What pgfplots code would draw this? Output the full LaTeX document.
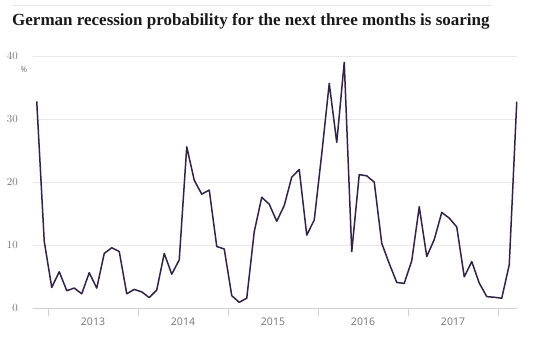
\documentclass[border=0pt]{standalone}
\usepackage{pgfplots}
\pgfplotsset{compat=1.18}
\usepackage{fontspec}
\setmainfont{Liberation Serif}
\newfontfamily\tickfont{Open Sans}
\definecolor{linec}{HTML}{2F2347}
\definecolor{gridc}{HTML}{E8E8E8}
\definecolor{tickc}{HTML}{737373}
\definecolor{basec}{HTML}{D0D0D0}
\begin{document}
\begin{tikzpicture}
\path[use as bounding box] (0,0) rectangle (550bp,341bp);
\draw[gridc, line width=0.8bp] (12bp,336bp) -- (492bp,336bp);
\node[anchor=base west, inner sep=0pt, text=black!90] at (12bp,315bp)
  {\fontsize{17bp}{19bp}\selectfont\bfseries German recession probability for the next three months is soaring};
\begin{axis}[
  at={(33bp,32.7bp)}, anchor=south west,
  scale only axis, width=483.75bp, height=252.3bp,
  xmin=-0.5, xmax=64, ymin=0, ymax=40,
  axis x line*=bottom, axis y line*=left,
  x axis line style={basec, line width=0.8bp},
  y axis line style={draw=none},
  ytick={0,10,20,30,40},
  ymajorgrids, grid style={gridc, line width=0.8bp},
  ytick style={draw=none},
  xtick={1.5,13.5,25.5,37.5,49.5,61.5}, xticklabels={},
  xtick style={basec, line width=0.8bp},
  tick align=outside, major tick length=8bp,
  extra x ticks={7.5,19.5,31.5,43.5,55.5},
  extra x tick labels={2013,2014,2015,2016,2017},
  extra x tick style={major tick length=0pt, grid=none},
  tick label style={font=\tickfont\fontsize{10.5bp}{12bp}\selectfont, text=tickc},
  yticklabel style={anchor=east, inner sep=0pt, xshift=-7bp},
  xticklabel style={inner sep=0pt, yshift=-9bp},
  clip=false,
]
\addplot[linec, line width=1.5bp, line join=round] coordinates {
(0,32.8) (1,10.6) (2,3.3) (3,5.8) (4,2.8) (5,3.2) (6,2.3) (7,5.65) (8,3.2) (9,8.7)
(10,9.6) (11,9.0) (12,2.3) (13,3.0) (14,2.6) (15,1.7) (16,2.9) (17,8.7) (18,5.4) (19,7.7)
(20,25.6) (21,20.3) (22,18.1) (23,18.75) (24,9.8) (25,9.4) (26,2.0) (27,0.95) (28,1.6) (29,12.15)
(30,17.6) (31,16.5) (32,13.8) (33,16.3) (34,20.8) (35,22.0) (36,11.6) (37,14.0) (38,24.5) (39,35.65)
(40,26.3) (41,39.0) (42,9.0) (43,21.2) (44,21.0) (45,20.0) (46,10.3) (47,7.1) (48,4.1) (49,3.95)
(50,7.55) (51,16.1) (52,8.2) (53,10.9) (54,15.2) (55,14.3) (56,12.9) (57,5.0) (58,7.4) (59,4.0)
(60,1.85) (61,1.75) (62,1.6) (63,6.9) (64,32.75)
};
\end{axis}
\node[text=tickc, inner sep=0pt] at (24bp,271bp) {\tickfont\fontsize{8bp}{10bp}\selectfont\%};
\end{tikzpicture}
\end{document}
